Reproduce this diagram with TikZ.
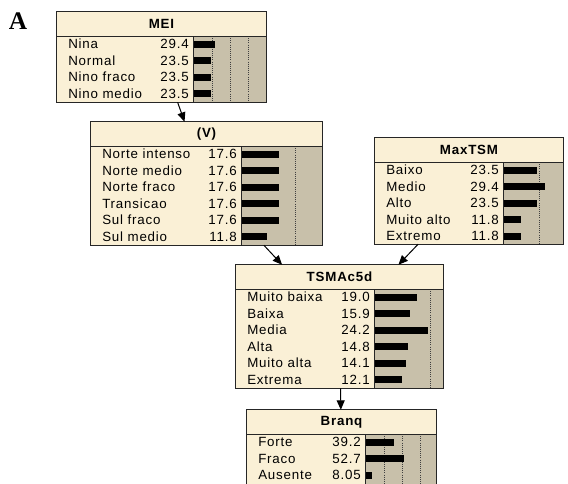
\documentclass[tikz,border=0pt]{standalone}
\usepackage{fontspec}
\setmainfont{Liberation Sans}
\newfontfamily\netfont{Liberation Sans}[LetterSpace=6]
\newfontfamily\panelfont{Liberation Serif}
\usetikzlibrary{arrows.meta,fit}

\definecolor{netcream}{RGB}{250,240,214}
\definecolor{netgray}{RGB}{200,192,170}

\tikzset{
  netbox/.style={fill=netcream, inner sep=0pt},
  boxline/.style={draw=black!85, line width=0.75pt},
  graypart/.style={fill=netgray},
  beliefbar/.style={fill=black},
  gridline/.style={densely dotted, line width=0.6pt, draw=black!75},
  statetext/.style={font=\netfont\fontsize{10}{12}\selectfont, inner sep=0pt},
  titletext/.style={font=\netfont\bfseries\fontsize{10}{12}\selectfont, inner sep=0pt},
  link/.style={-{Triangle[length=7pt,width=6pt]}, line width=0.75pt}
}

% #1 name, #2 title, #3 left, #4 top, #5 bar start, #6 right, #7 bottom,
% #8 px per percent, #9 states as label/value
\newcommand{\beliefnode}[9]{%
  \node[netbox, fit={(#3,#4) (#6,#7)}] (#1) {};
  \fill[graypart] (#5,#4+24) rectangle (#6,#7);
  \foreach \k in {1,2,3} {
    \pgfmathsetmacro\gx{#5+1+25*\k*#8}
    \ifdim\gx pt<#6pt \draw[gridline] (\gx,#4+24) -- (\gx,#7); \fi
  }
  \draw[boxline] (#5,#4+24) -- (#5,#7);
  \draw[boxline] (#3,#4+24) -- (#6,#4+24);
  \node[titletext] at ({(#3+#6)/2},{#4+12}) {#2};
  \foreach \lab/\val [count=\i] in {#9} {
    \pgfmathsetmacro\ry{#4+24+16.5*(\i-0.5)}
    \node[statetext, anchor=base west] at (#3+11,\ry+4.5) {\lab};
    \node[statetext, anchor=base east] at (#5-4,\ry+4.5) {\val};
    \fill[beliefbar] (#5+1,\ry-3.5) rectangle ++(\val*#8,7);
  }
  \draw[boxline] (#1.north west) rectangle (#1.south east);
}

\begin{document}
\begin{tikzpicture}[x=0.75pt,y=-0.75pt]
  \useasboundingbox (0,0) rectangle (568,483);
  \fill[white] (0,0) rectangle (568,483);
  \clip (0,0) rectangle (568,483);

  \node[font=\panelfont\bfseries\fontsize{19}{19}\selectfont] (panel) at (18,21) {A};

  \beliefnode{mei}{MEI}{57}{12}{193}{266}{102}{0.73}
    {Nina/29.4, Normal/23.5, Nino fraco/23.5, Nino medio/23.5}
  \beliefnode{vento}{(V)}{91}{122}{241}{322}{245}{2.12}
    {Norte intenso/17.6, Norte medio/17.6, Norte fraco/17.6,
     Transicao/17.6, Sul fraco/17.6, Sul medio/11.8}
  \beliefnode{maxtsm}{MaxTSM}{375}{138}{503}{563}{244}{1.4}
    {Baixo/23.5, Medio/29.4, Alto/23.5, Muito alto/11.8, Extremo/11.8}
  \beliefnode{tsmac}{TSMAc5d}{236}{265}{374}{443}{388}{2.2}
    {Muito baixa/19.0, Baixa/15.9, Media/24.2, Alta/14.8,
     Muito alta/14.1, Extrema/12.1}
  \beliefnode{branq}{Branq}{247}{410}{365}{436}{490}{0.72}
    {Forte/39.2, Fraco/52.7, Ausente/8.05}

  \draw[link] (mei) -- (vento);
  \draw[link] (vento) -- (tsmac);
  \draw[link] (maxtsm) -- (tsmac);
  \draw[link] (tsmac) -- (branq);
\end{tikzpicture}
\end{document}
